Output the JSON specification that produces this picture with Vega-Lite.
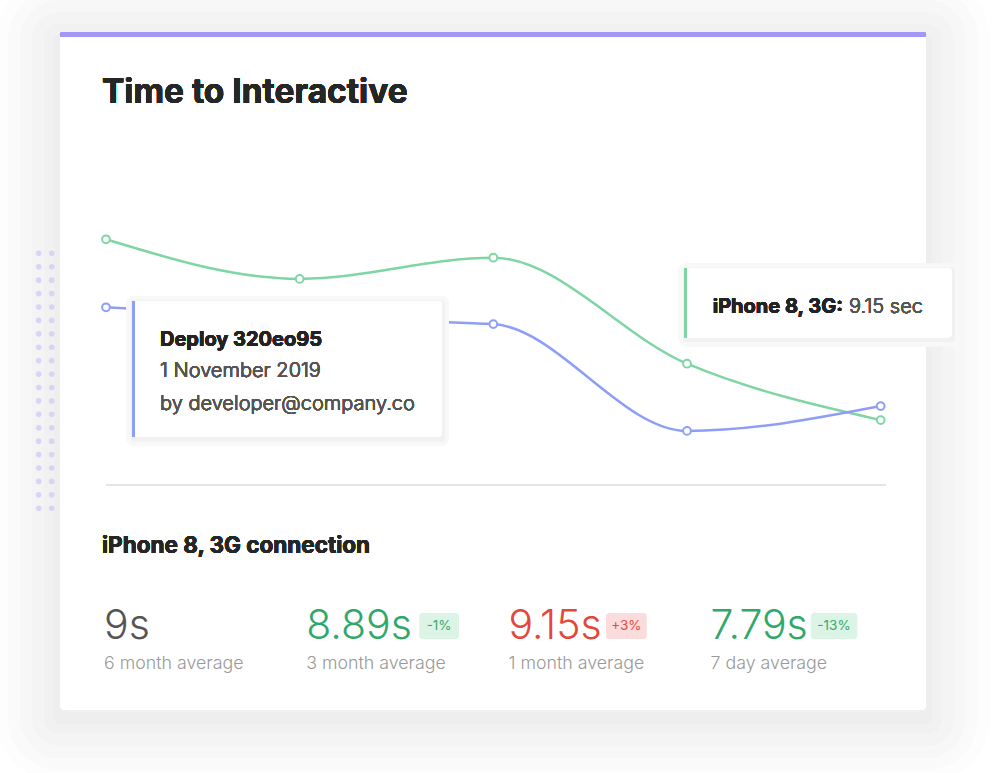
{
  "$schema": "https://vega.github.io/schema/vega-lite/v6.json",
  "width": 866, "height": 678,
  "autosize": {"type": "none"},
  "padding": {"left": 60, "top": 32, "right": 74, "bottom": 63},
  "background": "white",
  "config": {
    "view": {"stroke": null},
    "font": "Inter",
    "axis": {"disable": true},
    "legend": {"disable": true}
  },
  "datasets": {
    "tti": [
      {"run": 0, "series": "iPhone 8, 3G", "seconds": 12.26},
      {"run": 1, "series": "iPhone 8, 3G", "seconds": 11.27},
      {"run": 2, "series": "iPhone 8, 3G", "seconds": 11.80},
      {"run": 3, "series": "iPhone 8, 3G", "seconds": 9.15},
      {"run": 4, "series": "iPhone 8, 3G", "seconds": 7.74},
      {"run": 0, "series": "Desktop", "seconds": 10.56},
      {"run": 1, "series": "Desktop", "seconds": 10.29},
      {"run": 2, "series": "Desktop", "seconds": 10.14},
      {"run": 3, "series": "Desktop", "seconds": 7.47},
      {"run": 4, "series": "Desktop", "seconds": 8.09}
    ],
    "stats": [
      {"slot": 0, "time": "9s", "period": "6 month average", "change": "", "tone": "neutral"},
      {"slot": 1, "time": "8.89s", "period": "3 month average", "change": "-1%", "tone": "better"},
      {"slot": 2, "time": "9.15s", "period": "1 month average", "change": "+3%", "tone": "worse"},
      {"slot": 3, "time": "7.79s", "period": "7 day average", "change": "-13%", "tone": "better"}
    ],
    "dots": [
      {"col": 0, "row": 0}, {"col": 1, "row": 0}, {"col": 0, "row": 1}, {"col": 1, "row": 1},
      {"col": 0, "row": 2}, {"col": 1, "row": 2}, {"col": 0, "row": 3}, {"col": 1, "row": 3},
      {"col": 0, "row": 4}, {"col": 1, "row": 4}, {"col": 0, "row": 5}, {"col": 1, "row": 5},
      {"col": 0, "row": 6}, {"col": 1, "row": 6}, {"col": 0, "row": 7}, {"col": 1, "row": 7},
      {"col": 0, "row": 8}, {"col": 1, "row": 8}, {"col": 0, "row": 9}, {"col": 1, "row": 9},
      {"col": 0, "row": 10}, {"col": 1, "row": 10}, {"col": 0, "row": 11}, {"col": 1, "row": 11},
      {"col": 0, "row": 12}, {"col": 1, "row": 12}, {"col": 0, "row": 13}, {"col": 1, "row": 13},
      {"col": 0, "row": 14}, {"col": 1, "row": 14}, {"col": 0, "row": 15}, {"col": 1, "row": 15},
      {"col": 0, "row": 16}, {"col": 1, "row": 16}, {"col": 0, "row": 17}, {"col": 1, "row": 17},
      {"col": 0, "row": 18}, {"col": 1, "row": 18}, {"col": 0, "row": 19}, {"col": 1, "row": 19}
    ]
  },
  "layer": [
    {
      "data": {"name": "tti"},
      "layer": [
        {
          "mark": {"type": "rect", "filled": false, "stroke": "#fdfdfd", "strokeWidth": 128, "strokeJoin": "round"},
          "encoding": {
            "x": {"datum": -0.2375, "type": "quantitative", "scale": {"domain": [-0.2375, 4.234], "nice": false, "zero": false}},
            "x2": {"datum": 4.234},
            "y": {"datum": 17.2425, "type": "quantitative", "scale": {"domain": [0.4925, 17.4425], "nice": false, "zero": false}},
            "y2": {"datum": 0.2925}
          }
        },
        {
          "mark": {"type": "rect", "filled": false, "stroke": "#fafafa", "strokeWidth": 104, "strokeJoin": "round"},
          "encoding": {"x": {"datum": -0.2375}, "x2": {"datum": 4.234}, "y": {"datum": 17.2425}, "y2": {"datum": 0.2925}}
        },
        {
          "mark": {"type": "rect", "filled": false, "stroke": "#f7f7f7", "strokeWidth": 80, "strokeJoin": "round"},
          "encoding": {"x": {"datum": -0.2375}, "x2": {"datum": 4.234}, "y": {"datum": 17.2425}, "y2": {"datum": 0.2925}}
        },
        {
          "mark": {"type": "rect", "filled": false, "stroke": "#f4f4f4", "strokeWidth": 56, "strokeJoin": "round"},
          "encoding": {"x": {"datum": -0.2375}, "x2": {"datum": 4.234}, "y": {"datum": 17.2425}, "y2": {"datum": 0.2925}}
        },
        {
          "mark": {"type": "rect", "filled": false, "stroke": "#f1f1f1", "strokeWidth": 32, "strokeJoin": "round"},
          "encoding": {"x": {"datum": -0.2375}, "x2": {"datum": 4.234}, "y": {"datum": 17.2425}, "y2": {"datum": 0.2925}}
        },
        {
          "mark": {"type": "rect", "filled": false, "stroke": "#eeeeee", "strokeWidth": 12, "strokeJoin": "round"},
          "encoding": {"x": {"datum": -0.2375}, "x2": {"datum": 4.234}, "y": {"datum": 17.2425}, "y2": {"datum": 0.2925}}
        },
        {
          "mark": {"type": "rect", "fill": "#ffffff", "cornerRadius": 5},
          "encoding": {"x": {"datum": -0.2375}, "x2": {"datum": 4.234}, "y": {"datum": 17.4425}, "y2": {"datum": 0.4925}}
        },
        {
          "mark": {"type": "rect", "fill": "#a397f6", "cornerRadiusTopLeft": 5, "cornerRadiusTopRight": 5},
          "encoding": {"x": {"datum": -0.2375}, "x2": {"datum": 4.234}, "y": {"datum": 17.4425}, "y2": {"datum": 17.3175}}
        },
        {
          "mark": {"type": "text", "text": "Time to Interactive", "align": "left", "baseline": "alphabetic", "fontSize": 33.5, "fontWeight": 700, "color": "#262626"},
          "encoding": {"x": {"datum": -0.0207}, "y": {"datum": 15.6675}}
        },
        {
          "mark": {"type": "line", "interpolate": "monotone", "strokeWidth": 2.5},
          "encoding": {
            "x": {"field": "run", "type": "quantitative"},
            "y": {"field": "seconds", "type": "quantitative"},
            "color": {"field": "series", "type": "nominal", "scale": {"domain": ["iPhone 8, 3G", "Desktop"], "range": ["#7fd5a3", "#8e9ef6"]}}
          }
        },
        {
          "mark": {"type": "point", "shape": "circle", "filled": false, "fill": "#ffffff", "fillOpacity": 1, "opacity": 1, "strokeWidth": 2, "size": 60},
          "encoding": {
            "x": {"field": "run", "type": "quantitative"},
            "y": {"field": "seconds", "type": "quantitative"},
            "color": {"field": "series", "type": "nominal"}
          }
        },
        {
          "mark": {"type": "rect", "filled": false, "stroke": "#f8f8f8", "strokeWidth": 14, "strokeJoin": "round"},
          "encoding": {"x": {"datum": 0.1415}, "x2": {"datum": 1.7334}, "y": {"datum": 10.6675}, "y2": {"datum": 7.275}}
        },
        {
          "mark": {"type": "rect", "filled": false, "stroke": "#f1f1f1", "strokeWidth": 5, "strokeJoin": "round"},
          "encoding": {"x": {"datum": 0.1415}, "x2": {"datum": 1.7334}, "y": {"datum": 10.6675}, "y2": {"datum": 7.275}}
        },
        {
          "mark": {"type": "rect", "fill": "#ffffff", "cornerRadius": 3},
          "encoding": {"x": {"datum": 0.1415}, "x2": {"datum": 1.7334}, "y": {"datum": 10.7175}, "y2": {"datum": 7.325}}
        },
        {
          "mark": {"type": "rule", "color": "#8e9ef6", "strokeWidth": 2.5},
          "encoding": {"x": {"datum": 0.1415}, "y": {"datum": 10.7175}, "y2": {"datum": 7.325}}
        },
        {
          "mark": {"type": "text", "text": "Deploy 320eo95", "align": "left", "baseline": "alphabetic", "fontSize": 20, "fontWeight": 700, "color": "#232323"},
          "encoding": {"x": {"datum": 0.2788}, "y": {"datum": 9.5925}}
        },
        {
          "mark": {"type": "text", "text": "1 November 2019", "align": "left", "baseline": "alphabetic", "fontSize": 20, "fontWeight": 300, "color": "#555555"},
          "encoding": {"x": {"datum": 0.2788}, "y": {"datum": 8.81}}
        },
        {
          "mark": {"type": "text", "text": "by developer@company.co", "align": "left", "baseline": "alphabetic", "fontSize": 20, "fontWeight": 300, "color": "#555555"},
          "encoding": {"x": {"datum": 0.2788}, "y": {"datum": 7.9925}}
        },
        {
          "mark": {"type": "rect", "filled": false, "stroke": "#f8f8f8", "strokeWidth": 14, "strokeJoin": "round"},
          "encoding": {"x": {"datum": 2.9932}, "x2": {"datum": 4.3667}, "y": {"datum": 11.485}, "y2": {"datum": 9.76}}
        },
        {
          "mark": {"type": "rect", "filled": false, "stroke": "#f1f1f1", "strokeWidth": 5, "strokeJoin": "round"},
          "encoding": {"x": {"datum": 2.9932}, "x2": {"datum": 4.3667}, "y": {"datum": 11.485}, "y2": {"datum": 9.76}}
        },
        {
          "mark": {"type": "rect", "fill": "#ffffff", "cornerRadius": 3},
          "encoding": {"x": {"datum": 2.9932}, "x2": {"datum": 4.3667}, "y": {"datum": 11.535}, "y2": {"datum": 9.81}}
        },
        {
          "mark": {"type": "rule", "color": "#7fd5a3", "strokeWidth": 2.5},
          "encoding": {"x": {"datum": 2.9932}, "y": {"datum": 11.535}, "y2": {"datum": 9.81}}
        },
        {
          "mark": {"type": "text", "text": "iPhone 8, 3G:", "align": "left", "baseline": "alphabetic", "fontSize": 20, "fontWeight": 700, "color": "#232323"},
          "encoding": {"x": {"datum": 3.1327}, "y": {"datum": 10.425}}
        },
        {
          "mark": {"type": "text", "text": "9.15 sec", "align": "left", "baseline": "alphabetic", "fontSize": 20, "fontWeight": 300, "color": "#555555"},
          "encoding": {"x": {"datum": 3.8365}, "y": {"datum": 10.425}}
        },
        {
          "mark": {"type": "rule", "color": "#e4e4e4", "strokeWidth": 1},
          "encoding": {"x": {"datum": 0}, "x2": {"datum": 4.0275}, "y": {"datum": 6.1175}}
        },
        {
          "mark": {"type": "text", "text": "iPhone 8, 3G connection", "align": "left", "baseline": "alphabetic", "fontSize": 22.5, "fontWeight": 700, "color": "#262626"},
          "encoding": {"x": {"datum": -0.0207}, "y": {"datum": 4.41}}
        }
      ]
    },
    {
      "data": {"name": "stats"},
      "layer": [
        {
          "mark": {"type": "text", "align": "left", "baseline": "alphabetic", "fontSize": 41, "fontWeight": 300},
          "encoding": {
            "x": {"field": "slot", "type": "quantitative", "scale": {"domain": [-0.2176, 4.0653], "nice": false, "zero": false}},
            "y": {"datum": 2.2675, "type": "quantitative", "scale": {"domain": [0.4925, 17.4425], "nice": false, "zero": false}},
            "text": {"field": "time"},
            "color": {"field": "tone", "type": "nominal", "scale": {"domain": ["neutral", "better", "worse"], "range": ["#555555", "#30a86a", "#e4473b"]}}
          }
        },
        {
          "mark": {"type": "text", "align": "left", "baseline": "alphabetic", "fontSize": 17.8, "fontWeight": 300, "color": "#999999"},
          "encoding": {
            "x": {"field": "slot", "type": "quantitative"},
            "y": {"datum": 1.5175},
            "text": {"field": "period"}
          }
        },
        {
          "transform": [{"filter": "datum.slot == 1"}],
          "mark": {"type": "rect", "fill": "#dbf4e6", "cornerRadius": 3},
          "encoding": {"x": {"datum": 1.5593}, "x2": {"datum": 1.7557}, "y": {"datum": 2.9175}, "y2": {"datum": 2.2675}}
        },
        {
          "transform": [{"filter": "datum.slot == 1"}],
          "mark": {"type": "text", "align": "center", "baseline": "middle", "fontSize": 13.5, "color": "#3aa96b"},
          "encoding": {"x": {"datum": 1.6575}, "y": {"datum": 2.5925}, "text": {"field": "change"}}
        },
        {
          "transform": [{"filter": "datum.slot == 2"}],
          "mark": {"type": "rect", "fill": "#fbdcdc", "cornerRadius": 3},
          "encoding": {"x": {"datum": 2.4827}, "x2": {"datum": 2.684}, "y": {"datum": 2.9175}, "y2": {"datum": 2.2675}}
        },
        {
          "transform": [{"filter": "datum.slot == 2"}],
          "mark": {"type": "text", "align": "center", "baseline": "middle", "fontSize": 13.5, "color": "#e24b3d"},
          "encoding": {"x": {"datum": 2.5834}, "y": {"datum": 2.5925}, "text": {"field": "change"}}
        },
        {
          "transform": [{"filter": "datum.slot == 3"}],
          "mark": {"type": "rect", "fill": "#dbf4e6", "cornerRadius": 3},
          "encoding": {"x": {"datum": 3.4951}, "x2": {"datum": 3.7255}, "y": {"datum": 2.9175}, "y2": {"datum": 2.2675}}
        },
        {
          "transform": [{"filter": "datum.slot == 3"}],
          "mark": {"type": "text", "align": "center", "baseline": "middle", "fontSize": 13.5, "color": "#3aa96b"},
          "encoding": {"x": {"datum": 3.6103}, "y": {"datum": 2.5925}, "text": {"field": "change"}}
        }
      ]
    },
    {
      "data": {"name": "dots"},
      "mark": {"type": "circle", "size": 32, "color": "#d9d4f5", "opacity": 1},
      "encoding": {
        "x": {"field": "col", "type": "quantitative", "scale": {"domain": [1.638, 68.25], "nice": false, "zero": false}},
        "y": {"field": "row", "type": "quantitative", "scale": {"domain": [-16.49, 34.03], "reverse": true, "nice": false, "zero": false}}
      }
    }
  ],
  "resolve": {"scale": {"x": "independent", "y": "independent", "color": "independent"}}
}
